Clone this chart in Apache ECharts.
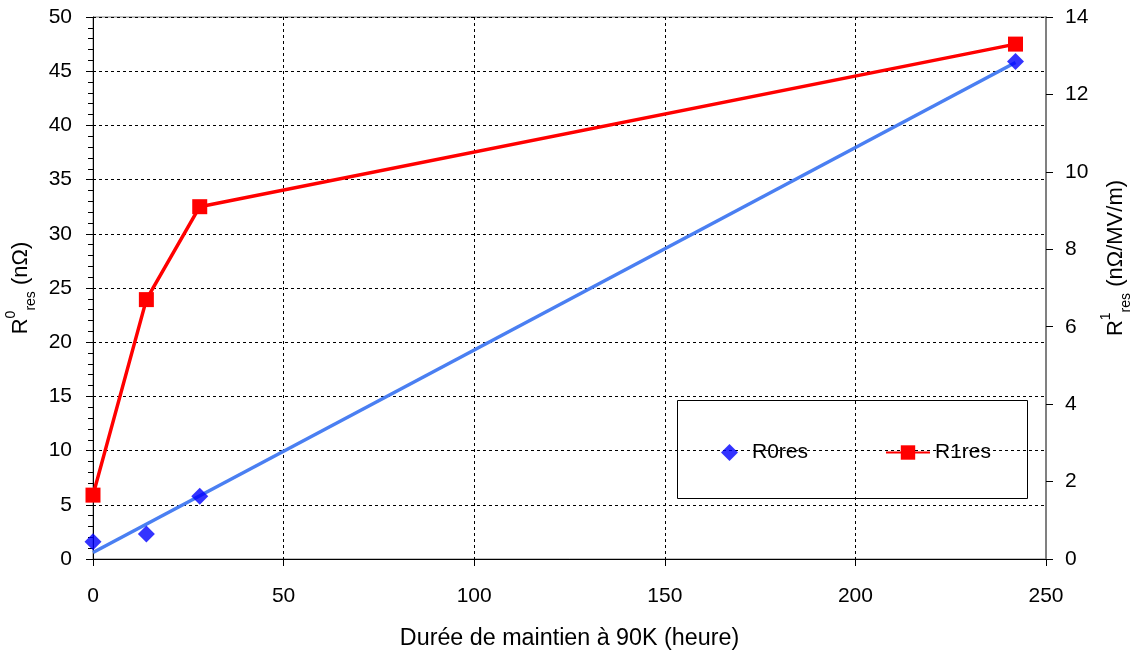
<!DOCTYPE html>
<html>
<head>
<meta charset="utf-8">
<script src="https://cdn.jsdelivr.net/npm/echarts@6/dist/echarts.min.js"></script>
<style>
html,body{margin:0;padding:0;background:#fff;}
#chart{width:1137px;height:651px;}
</style>
</head>
<body>
<div id="chart"></div>
<script>
// ---- data ----
const hours = [0, 14, 28, 242];
const r0res = [1.6, 2.3, 5.8, 45.9];
const r1res = [1.65, 6.7, 9.1, 13.3];
const trendHours = [0, 242];
const trendR0 = [0.6, 45.8];
const xTicks = [0, 50, 100, 150, 200, 250];
const leftTicks = [0, 5, 10, 15, 20, 25, 30, 35, 40, 45, 50];
const rightTicks = [0, 2, 4, 6, 8, 10, 12, 14];

const FONT = '"Liberation Sans", Arial, sans-serif';
const chart = echarts.init(document.getElementById('chart'), null, {renderer: 'canvas'});

const pairs = (xs, ys) => xs.map((x, i) => [x, ys[i]]);

const titleRich = {
  sup: {fontSize: 14, color: '#000', fontFamily: FONT, lineHeight: 14, verticalAlign: 'top'},
  sub: {fontSize: 14, color: '#000', fontFamily: FONT, lineHeight: 20, verticalAlign: 'bottom'}
};

const option = {
  backgroundColor: '#ffffff',
  animation: false,
  textStyle: {fontFamily: FONT},
  grid: {left: 93, right: 91, top: 17, bottom: 92, show: true, borderColor: '#808080', borderWidth: 1,
         backgroundColor: 'transparent', containLabel: false, outerBoundsMode: 'none'},
  legend: [
    {
      left: 716, top: 437, itemWidth: 17, itemHeight: 17,
      textStyle: {fontSize: 21, color: '#000', fontFamily: FONT, padding: [0, 0, 0, 9]},
      data: [{name: 'R0res', icon: 'diamond'}]
    },
    {
      left: 880, top: 437, itemWidth: 44, itemHeight: 18,
      textStyle: {fontSize: 21, color: '#000', fontFamily: FONT},
      data: ['R1res']
    }
  ],
  graphic: [{
    type: 'rect', left: 677, top: 400, z: 0,
    shape: {width: 350, height: 98},
    style: {fill: '#fff', stroke: '#000', lineWidth: 1}
  }],
  xAxis: {
    type: 'value', min: xTicks[0], max: xTicks[xTicks.length - 1], interval: 50,
    name: 'Durée de maintien à 90K (heure)', nameLocation: 'middle', nameGap: 68,
    nameTextStyle: {fontSize: 23.3, color: '#000', fontFamily: FONT},
    axisLine: {show: true, lineStyle: {color: '#000', width: 1}},
    axisTick: {show: true, length: 7, lineStyle: {color: '#000'}},
    axisLabel: {fontSize: 21, color: '#000', margin: 27, fontFamily: FONT},
    splitLine: {show: true, lineStyle: {color: '#000', type: [3, 3], width: 1}}
  },
  yAxis: [
    {
      type: 'value', min: leftTicks[0], max: leftTicks[leftTicks.length - 1], interval: 5,
      position: 'left',
      name: 'R{sup|0}{sub|res} (nΩ)', nameLocation: 'middle', nameGap: 50, nameRotate: 90,
      nameTextStyle: {fontSize: 22, color: '#000', fontFamily: FONT, lineHeight: 34, rich: titleRich},
      axisLine: {show: true, lineStyle: {color: '#000', width: 1}},
      axisTick: {show: true, length: 7, lineStyle: {color: '#000'}},
      minorTick: {show: true, splitNumber: 5, length: 5, lineStyle: {color: '#000'}},
      axisLabel: {fontSize: 21, color: '#000', margin: 21, fontFamily: FONT},
      splitLine: {show: true, lineStyle: {color: '#000', type: [3, 3], width: 1}}
    },
    {
      type: 'value', min: rightTicks[0], max: rightTicks[rightTicks.length - 1], interval: 2,
      position: 'right',
      name: 'R{sup|1}{sub|res} (nΩ/MV/m)', nameLocation: 'middle', nameGap: 50, nameRotate: 90,
      nameTextStyle: {fontSize: 22, color: '#000', fontFamily: FONT, lineHeight: 34,
        padding: [0, 0, 0, 60], rich: titleRich},
      axisLine: {show: true, lineStyle: {color: '#808080', width: 2}},
      axisTick: {show: true, length: 7, lineStyle: {color: '#000'}},
      axisLabel: {fontSize: 21, color: '#000', margin: 19, fontFamily: FONT},
      splitLine: {show: false}
    }
  ],
  series: [
    {
      name: 'trend', type: 'line', xAxisIndex: 0, yAxisIndex: 0,
      data: pairs(trendHours, trendR0), showSymbol: false, symbol: 'none',
      lineStyle: {color: '#4a7ff2', width: 3.5}, z: 2, silent: true
    },
    {
      name: 'R0res', type: 'scatter', xAxisIndex: 0, yAxisIndex: 0,
      data: pairs(hours, r0res), symbol: 'diamond', symbolSize: 17,
      itemStyle: {color: '#0000ff'}, z: 3
    },
    {
      name: 'R1res', type: 'line', xAxisIndex: 0, yAxisIndex: 1,
      data: pairs(hours, r1res), symbol: 'rect', symbolSize: 15, showSymbol: true,
      lineStyle: {color: '#ff0000', width: 3.5}, itemStyle: {color: '#ff0000'}, z: 4
    }
  ]
};
chart.setOption(option);
</script>
</body>
</html>
